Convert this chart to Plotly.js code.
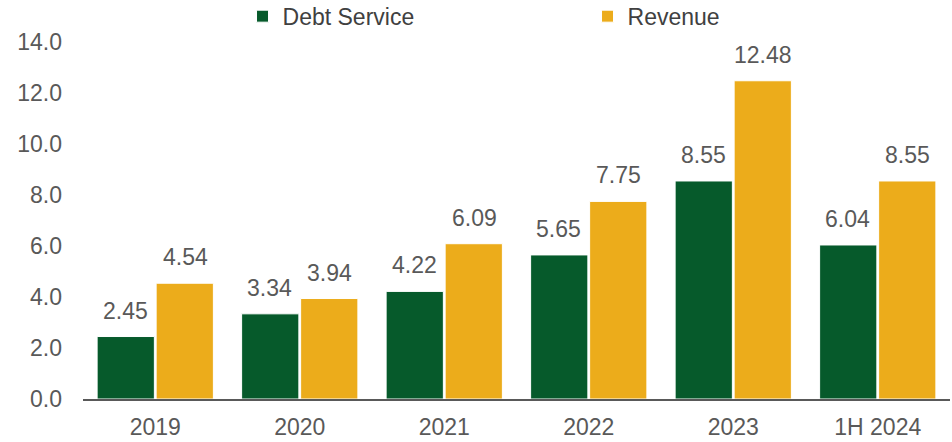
<!DOCTYPE html>
<html>
<head>
<meta charset="utf-8">
<script src="https://cdn.plot.ly/plotly-3.0.1.min.js"></script>
<style>html,body{margin:0;padding:0;background:#fff}#chart{width:952px;height:442px}</style>
</head>
<body>
<div id="chart"></div>
<script>
const categories = ["2019", "2020", "2021", "2022", "2023", "1H 2024"];
const debtService = [2.45, 3.34, 4.22, 5.65, 8.55, 6.04];
const revenue = [4.54, 3.94, 6.09, 7.75, 12.48, 8.55];
const yTicks = [0, 2, 4, 6, 8, 10, 12, 14];
const yTickLabels = yTicks.map(v => v.toFixed(1));

const green = "#065A2B";
const gold = "#ECAC1B";
const textColor = "#595959";
const fontFam = "Liberation Sans, Arial, sans-serif";

const traces = [
  {type: "bar", name: "Debt Service", x: categories, y: debtService,
   marker: {color: green, line: {color: "#ffffff", width: 1}}, hoverinfo: "skip"},
  {type: "bar", name: "Revenue", x: categories, y: revenue,
   marker: {color: gold, line: {color: "#ffffff", width: 1}}, hoverinfo: "skip"}
];

const annotations = [];
[[debtService, -30], [revenue, 30]].forEach(([vals, dx]) => {
  vals.forEach((v, i) => {
    annotations.push({x: i, y: v, xref: "x", yref: "y", text: v.toFixed(2),
      showarrow: false, xanchor: "center", yanchor: "bottom", xshift: dx, yshift: 11,
      font: {family: fontFam, size: 23, color: textColor}});
  });
});

const layout = {
  width: 952, height: 442,
  margin: {l: 83, r: 2, t: 42, b: 43, autoexpand: false},
  paper_bgcolor: "#fff", plot_bgcolor: "#fff",
  barmode: "group", bargap: 0.183, bargroupgap: 0.03,
  font: {family: fontFam, size: 23, color: textColor},
  xaxis: {type: "category", range: [-0.5, 5.5], showgrid: false, showline: true, linecolor: "#595959", linewidth: 2,
          ticks: "", ticklabelstandoff: 6, tickfont: {size: 23, color: textColor}},
  yaxis: {range: [0, 14], tickvals: yTicks, ticktext: yTickLabels, showgrid: false,
          zeroline: false, showline: false, ticks: "", ticklabelstandoff: 20,
          tickfont: {size: 23, color: textColor}},
  legend: {orientation: "h", x: 0.184, xanchor: "left", y: 1.012, yanchor: "bottom",
           entrywidth: 300, entrywidthmode: "pixels",
           font: {size: 23, color: "#404040"}, bgcolor: "rgba(0,0,0,0)"},
  annotations: annotations,
  showlegend: true
};

Plotly.newPlot("chart", traces, layout, {staticPlot: true, displayModeBar: false});
</script>
</body>
</html>
